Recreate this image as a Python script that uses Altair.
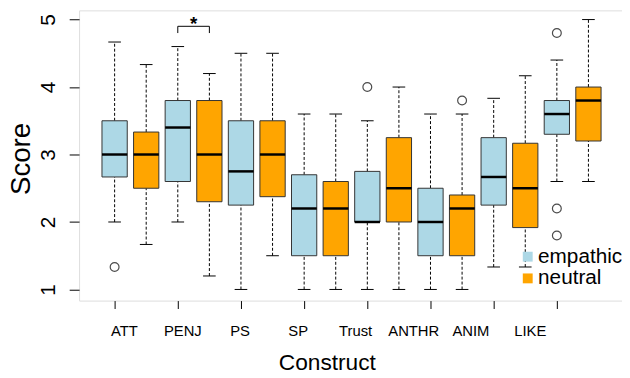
import altair as alt
import pandas as pd

# ---- data ----
constructs = ["ATT", "PENJ", "PS", "SP", "Trust", "ANTHR", "ANIM", "LIKE"]
groups = ["empathic", "neutral"]
colors = ["#ADD8E6", "#FFA500"]

# one entry per box: ATT-empathic, ATT-neutral, PENJ-empathic, ...
whisker_low = [2.0, 1.667, 2.0, 1.2, 1.0, 1.5, 1.0, 1.0, 1.0, 1.0, 1.0, 1.0, 1.333, 1.333, 2.6, 2.6]
q1 =          [2.667, 2.5, 2.6, 2.3, 2.25, 2.375, 1.5, 1.5, 2.0, 2.0, 1.5, 1.5, 2.25, 1.917, 3.3, 3.2]
median =      [3.0, 3.0, 3.4, 3.0, 2.75, 3.0, 2.2, 2.2, 2.0, 2.5, 2.0, 2.2, 2.667, 2.5, 3.6, 3.8]
q3 =          [3.5, 3.333, 3.8, 3.8, 3.5, 3.5, 2.7, 2.6, 2.75, 3.25, 2.5, 2.4, 3.25, 3.167, 3.8, 4.0]
whisker_high = [4.667, 4.333, 4.6, 4.2, 4.5, 4.5, 3.6, 3.6, 3.5, 4.0, 3.6, 3.6, 3.833, 4.167, 4.4, 5.0]

# outliers: (box number, value)
outlier_box = [1, 9, 12, 15, 15, 15]
outlier_val = [1.333, 4.0, 3.8, 4.8, 2.2, 1.8]

# construct label positions along the box axis
label_pos = [1.31, 3.16, 4.97, 6.81, 8.63, 10.47, 12.28, 14.16]

# significance bracket between PENJ boxes
sig_x = [3, 4]
sig_y = 4.90
sig_y_low = 4.80
sig_text_y = 4.84

# ---- tables ----
n = len(median)
df = pd.DataFrame({
    "pos": list(range(1, n + 1)),
    "construct": [constructs[i // 2] for i in range(n)],
    "group": [groups[i % 2] for i in range(n)],
    "lo": whisker_low, "q1": q1, "med": median, "q3": q3, "hi": whisker_high,
})
out_df = pd.DataFrame({"pos": outlier_box, "val": outlier_val})
lab_df = pd.DataFrame({"pos": label_pos, "label": constructs})
br_df = pd.DataFrame({"x1": [sig_x[0]], "x2": [sig_x[1]], "y": [sig_y], "ylo": [sig_y_low]})
brv_df = pd.DataFrame({"x": sig_x, "y": [sig_y] * 2, "ylo": [sig_y_low] * 2})
star_df = pd.DataFrame({"x": [(sig_x[0] + sig_x[1]) / 2], "y": [sig_text_y], "t": ["*"]})

FONT = "Liberation Sans"
xs = alt.Scale(domain=[-0.125, 17.0625], nice=False, zero=False)
ys = alt.Scale(domain=[0.835, 5.136], nice=False, zero=False)

x_axis = alt.Axis(values=list(range(1, n + 1)), labels=False, tickSize=8, tickColor="black",
                  tickWidth=1, domain=False, grid=False, title="Construct",
                  titleFontSize=23, titleFont=FONT, titleFontWeight="normal", titleColor="black",
                  titleX=251, titleY=70, titleBaseline="alphabetic", titleAlign="center")
y_axis = alt.Axis(values=[1, 2, 3, 4, 5], format="d", tickSize=10, tickColor="black", tickWidth=1,
                  domain=False, grid=False, labelAngle=270, labelFontSize=21, labelFont=FONT,
                  labelColor="black", labelAlign="center", labelBaseline="alphabetic",
                  labelPadding=15, title="Score", titleFontSize=28, titleFont=FONT,
                  titleFontWeight="normal", titleColor="black", titleAngle=270,
                  titleX=-50, titleY=150, titleBaseline="alphabetic", titleAlign="center")

base = alt.Chart(df).transform_calculate(
    bl="datum.pos - 0.4", br="datum.pos + 0.4",
    cl="datum.pos - 0.2", cr="datum.pos + 0.2")

upper = base.mark_rule(color="black", strokeDash=[3, 2], strokeWidth=1).encode(
    x=alt.X("pos:Q", scale=xs, axis=x_axis), y=alt.Y("q3:Q", scale=ys, axis=y_axis), y2="hi:Q")
lower = base.mark_rule(color="black", strokeDash=[3, 2], strokeWidth=1).encode(
    x="pos:Q", y="lo:Q", y2="q1:Q")
cap_hi = base.mark_rule(color="black", strokeWidth=1).encode(x="cl:Q", x2="cr:Q", y="hi:Q")
cap_lo = base.mark_rule(color="black", strokeWidth=1).encode(x="cl:Q", x2="cr:Q", y="lo:Q")
boxes = base.mark_bar(stroke="#333333", strokeWidth=1).encode(
    x="bl:Q", x2="br:Q", y="q1:Q", y2="q3:Q",
    fill=alt.Fill("group:N", scale=alt.Scale(domain=groups, range=colors),
                  legend=alt.Legend(orient="none", legendX=444, legendY=239, title=None,
                                    symbolType="square", symbolSize=100, symbolStrokeWidth=0,
                                    labelFontSize=21, labelFont=FONT, labelColor="black",
                                    labelOffset=0, padding=0, rowPadding=0)))
meds = base.mark_rule(color="black", strokeWidth=2.5).encode(x="bl:Q", x2="br:Q", y="med:Q")

outs = alt.Chart(out_df).mark_point(shape="circle", filled=False, size=80, color="black",
                                    strokeWidth=1.2).encode(x="pos:Q", y="val:Q")

labels = alt.Chart(lab_df).mark_text(font=FONT, fontSize=15, color="black",
                                     baseline="middle", align="center").encode(
    x="pos:Q", y=alt.value(325), text="label:N")

br_h = alt.Chart(br_df).mark_rule(color="black", strokeWidth=1).encode(x="x1:Q", x2="x2:Q", y="y:Q")
br_v = alt.Chart(brv_df).mark_rule(color="black", strokeWidth=1).encode(x="x:Q", y="ylo:Q", y2="y:Q")
star = alt.Chart(star_df).mark_text(font=FONT, fontSize=19, color="black", fontWeight="bold",
                                    baseline="alphabetic", align="center").encode(
    x="x:Q", y="y:Q", text="t:N")

chart = alt.layer(upper, lower, cap_hi, cap_lo, boxes, meds, outs, labels, br_h, br_v, star).properties(
    width=550, height=294,
    autosize=alt.AutoSizeParams(type="none"),
    padding={"left": 72, "top": 0, "right": 0, "bottom": 76},
).configure_view(stroke="#444444", strokeWidth=1.5).configure(background="white")

chart.save("out.html", embed_options={"renderer": "svg", "actions": False})
